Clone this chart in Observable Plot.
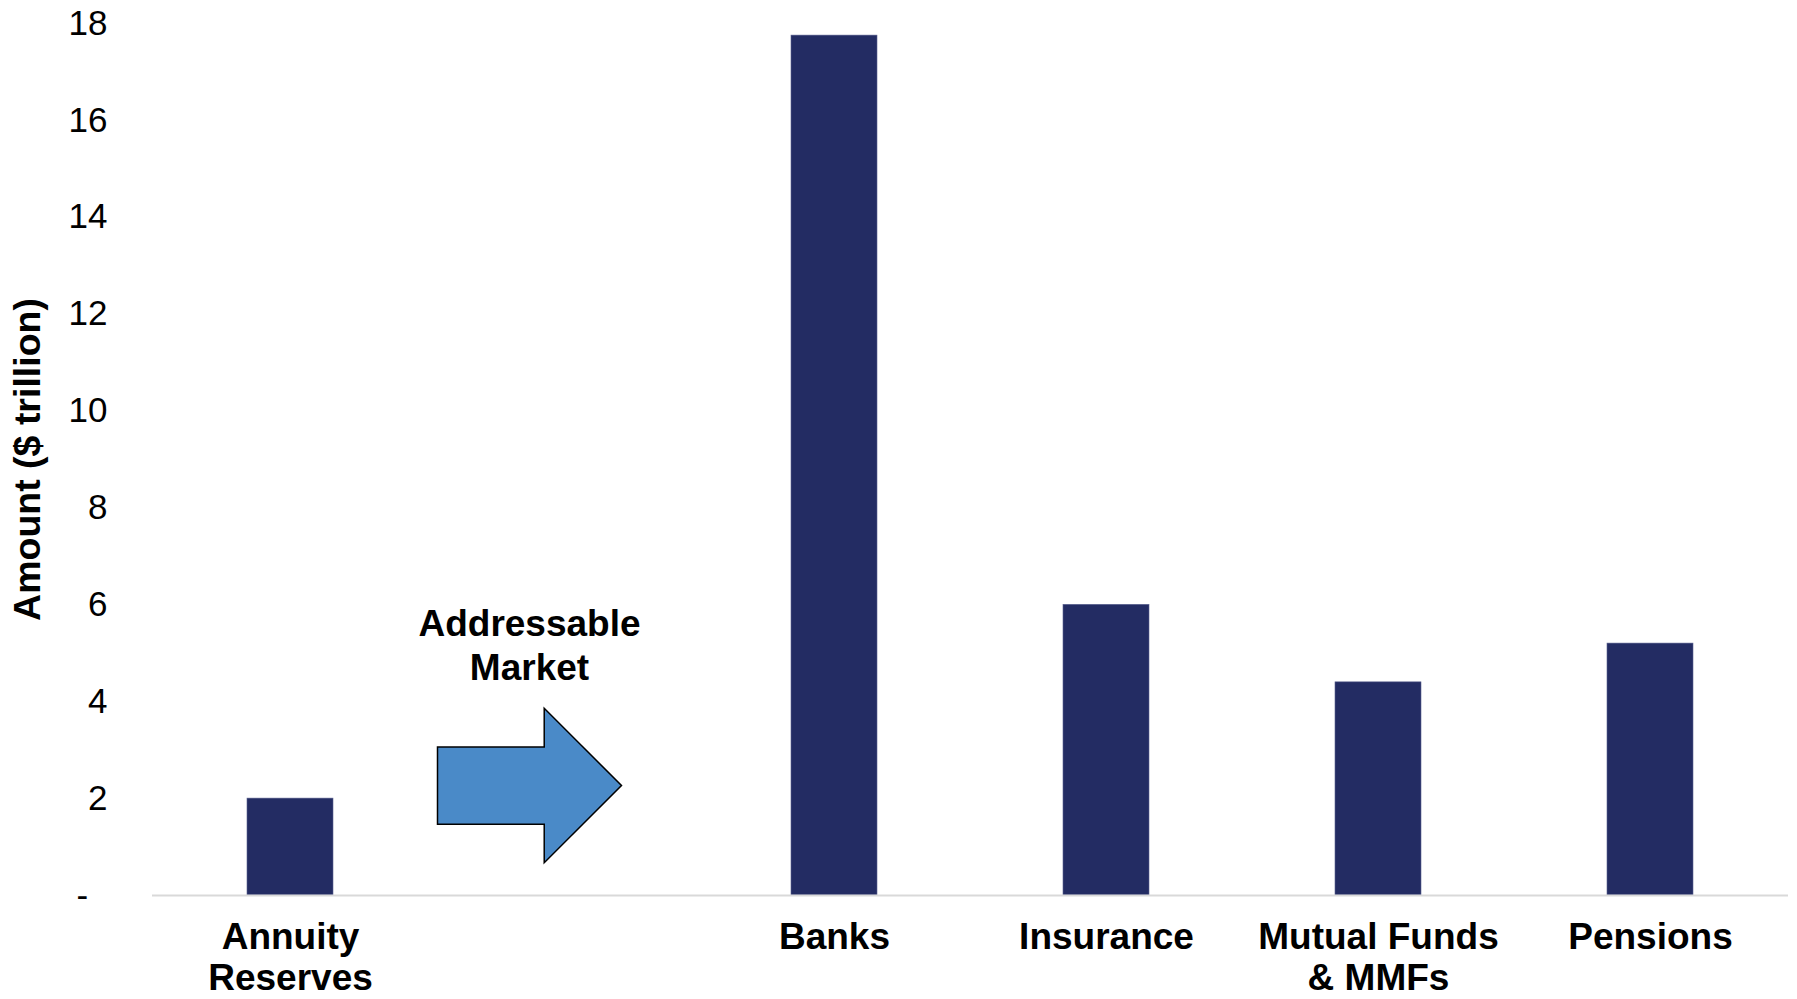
<!DOCTYPE html>
<html>
<head>
<meta charset="utf-8">
<script src="https://cdn.jsdelivr.net/npm/d3@7"></script>
<script src="https://cdn.jsdelivr.net/npm/@observablehq/plot@0.6"></script>
<style>
  html, body { margin: 0; padding: 0; background: #fff; }
  #chart svg { display: block; font-family: "Liberation Sans", Arial, sans-serif; }
  #chart svg [aria-label="y-axis label"] text { font-weight: bold; font-size: 37.5px; }
</style>
</head>
<body>
<div id="chart"></div>
<script>
// categories (the "gap" entry is the empty slot holding the arrow)
const categories = ["Annuity Reserves", "gap", "Banks", "Insurance", "Mutual Funds & MMFs", "Pensions"];
const tickLabels = ["Annuity\nReserves", "", "Banks", "Insurance", "Mutual Funds\n& MMFs", "Pensions"];
const barCategories = ["Annuity Reserves", "Banks", "Insurance", "Mutual Funds & MMFs", "Pensions"];
const amounts = [2.0, 17.75, 6.0, 4.4, 5.2];
const yTicks = [0, 2, 4, 6, 8, 10, 12, 14, 16, 18];
const annotationText = "Addressable\nMarket";
const annotationCategory = "gap";
const annotationTextValue = 5.2;
const arrowValue = 2.27;

const bars = barCategories.map((c, i) => ({category: c, amount: amounts[i]}));

// block arrow symbol, drawn around the point's centre
const arrowSymbol = {
  draw(context, size) {
    const r = Math.sqrt(size / Math.PI);
    context.moveTo(-r, -0.42 * r);
    context.lineTo(0.16 * r, -0.42 * r);
    context.lineTo(0.16 * r, -0.84 * r);
    context.lineTo(r, 0);
    context.lineTo(0.16 * r, 0.84 * r);
    context.lineTo(0.16 * r, 0.42 * r);
    context.lineTo(-r, 0.42 * r);
    context.closePath();
  }
};

const chart = Plot.plot({
  width: 1797,
  height: 999,
  marginLeft: 152,
  marginRight: 9,
  marginTop: 23,
  marginBottom: 104,
  style: {fontFamily: '"Liberation Sans", Arial, sans-serif', color: "#000", background: "#fff"},
  x: {domain: categories, paddingInner: 0.685, paddingOuter: 0.3425},
  y: {domain: [0, 18]},
  marks: [
    Plot.barY(bars, {x: "category", y: "amount", fill: "#232C63", stroke: "#5a6190", strokeWidth: 0.6}),
    Plot.ruleY([0], {stroke: "#d9d9d9", strokeWidth: 2}),
    Plot.axisY({
      ticks: yTicks,
      tickSize: 0,
      tickPadding: 45,
      fontSize: 35,
      tickFormat: d => d === 0 ? "-\u00a0\u00a0" : String(d),
      label: "Amount ($ trillion)",
      labelAnchor: "center",
      labelArrow: "none",
      labelOffset: 139
    }),
    Plot.axisX({
      tickSize: 0,
      tickPadding: 25,
      fontSize: 37,
      fontWeight: "bold",
      lineHeight: 1.1,
      tickFormat: d => tickLabels[categories.indexOf(d)],
      label: null
    }),
    Plot.dot([{category: annotationCategory, v: arrowValue}], {
      x: "category", y: "v", symbol: arrowSymbol, r: 92, dx: -33,
      fill: "#4A8AC8", stroke: "#000", strokeWidth: 1.5, fillOpacity: 1
    }),
    Plot.text([{category: annotationCategory, v: annotationTextValue}], {
      x: "category", y: "v", text: () => annotationText, dx: -33,
      fontSize: 37, fontWeight: "bold", lineHeight: 1.2, fill: "#000"
    })
  ]
});
document.getElementById("chart").appendChild(chart);
</script>
</body>
</html>
